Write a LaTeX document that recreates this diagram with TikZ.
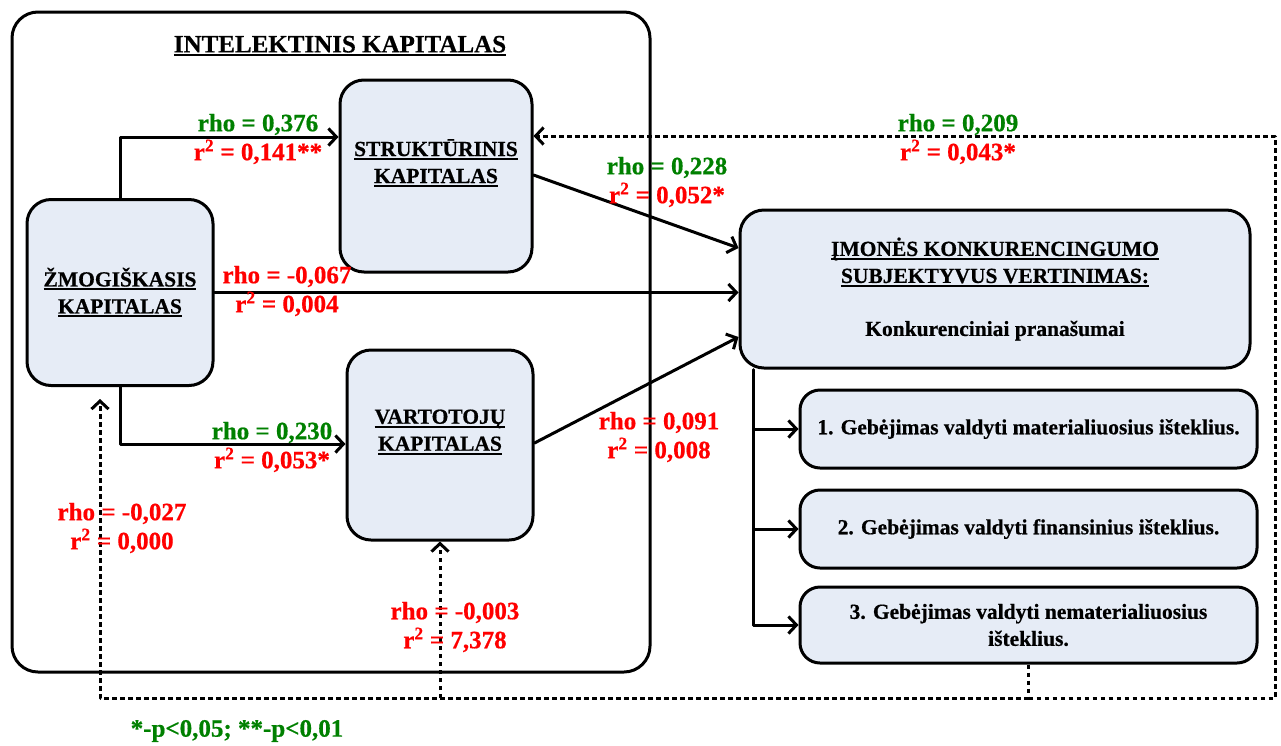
\documentclass[tikz,border=0pt]{standalone}
\usepackage{fontspec}
\setmainfont{Liberation Serif}[BoldFeatures={FakeBold=0.6}]
\usepackage[dvipsnames]{xcolor}
\usetikzlibrary{arrows.meta}
\usetikzlibrary{positioning}
\definecolor{rhogreen}{rgb}{0.0,0.5,0.0}
\definecolor{rhored}{rgb}{1,0,0}
\definecolor{boxblue}{RGB}{230,236,246}
\newsavebox{\kulbox}
\newcommand{\kul}[1]{\sbox{\kulbox}{#1}\rlap{\vrule width \wd\kulbox height -1.8pt depth 3.8pt}\usebox{\kulbox}}

\begin{document}
\begin{tikzpicture}[line cap=round,line join=round,x=1pt,y=-1pt,
    kbox/.style={draw=black,line width=3pt,fill=boxblue,rounded corners=24pt,inner sep=0pt},
    ktext/.style={align=center,font=\fontsize{21.5}{27}\selectfont\bfseries},
    lbl/.style={align=center,font=\fontsize{25}{29}\selectfont\bfseries},
    link/.style={line width=3pt,color=black,-{Straight Barb[length=8pt,width=17pt]}},
    dotlink/.style={line width=3pt,color=black,line cap=butt,dash pattern=on 4.5pt off 3.5pt}]
\useasboundingbox (0,0) rectangle (1281,745);
\node[draw=black,line width=3pt,rounded corners=26pt,minimum width=638pt,minimum height=660pt] (ik) at (331,342) {};
\node[lbl] (iktitle) at (340,46) {\kul{INTELEKTINIS KAPITALAS}};
\node[kbox,minimum width=186pt,minimum height=186pt] (zmog) at (120,292.5) {};
\node[ktext] at (zmog) {\kul{ŽMOGIŠKASIS}\\\kul{KAPITALAS}};
\node[kbox,minimum width=192pt,minimum height=192pt] (strukt) at (436,176) {};
\node[ktext] at (436,163) {\kul{STRUKTŪRINIS}\\\kul{KAPITALAS}};
\node[kbox,minimum width=186pt,minimum height=190pt] (vart) at (440,445) {};
\node[ktext] at (440,432) {\kul{VARTOTOJŲ}\\\kul{KAPITALAS}};
\node[kbox,minimum width=510pt,minimum height=158pt] (imon) at (995,289) {};
\node[ktext] at (995,289) {\kul{ĮMONĖS KONKURENCINGUMO}\\\kul{SUBJEKTYVUS VERTINIMAS:}\\[26pt]Konkurenciniai pranašumai};
\node[kbox,rounded corners=20pt,minimum width=457pt,minimum height=78pt] (item1) at (1028.5,429) {};
\node[ktext] at (item1) {1. Gebėjimas valdyti materialiuosius išteklius.};
\node[kbox,rounded corners=20pt,minimum width=457pt,minimum height=78pt] (item2) at (1028.5,529) {};
\node[ktext] at (item2) {2. Gebėjimas valdyti finansinius išteklius.};
\node[kbox,rounded corners=20pt,minimum width=457pt,minimum height=76pt] (item3) at (1028.5,625) {};
\node[ktext] at (item3) {3. Gebėjimas valdyti nematerialiuosius\\išteklius.};
\draw[link] (zmog.north) |- ([yshift=39pt]strukt.west);
\draw[link] (zmog.south) |- ([yshift=1pt]vart.west);
\draw[link] (zmog.east) -- (imon.west |- zmog.east);
\draw[link] ([yshift=1pt]strukt.east) -- ([yshift=41pt]imon.west);
\draw[link] ([yshift=2pt]vart.east) -- ([yshift=-48pt]imon.west);
\coordinate (fork) at ([xshift=15pt]imon.south west);
\draw[line width=3pt] (fork) -- (fork |- item3.west);
\foreach \n in {1,2,3}
\draw[link] (fork |- item\n.west) -- (item\n.west);
\coordinate (dmid) at (item3.south |- 0,698);
\coordinate (dright) at (1275,698);
\draw[dotlink] (item3.south) -- (dmid);
\draw[dotlink,-{Straight Barb[length=8pt,width=17pt]}] (dmid) -- (dright) |- ([yshift=40pt]strukt.east);
\draw[dotlink,-{Straight Barb[length=8pt,width=17pt]}] (dmid) -| ([xshift=-20pt,yshift=-12pt]zmog.south);
\draw[dotlink,-{Straight Barb[length=8pt,width=17pt]}] (vart.south |- dmid) -- (vart.south);
\node[lbl] (lzs) at (258,139) {\textcolor{rhogreen}{rho = 0,376}\\\textcolor{rhored}{r\textsuperscript{2} = 0,141**}};
\node[lbl] (lzi) at (287,291) {\textcolor{rhored}{rho = -0,067}\\\textcolor{rhored}{r\textsuperscript{2} = 0,004}};
\node[lbl] (lzv) at (272,447) {\textcolor{rhogreen}{rho = 0,230}\\\textcolor{rhored}{r\textsuperscript{2} = 0,053*}};
\node[lbl] (lsi) at (667,182) {\textcolor{rhogreen}{rho = 0,228}\\\textcolor{rhored}{r\textsuperscript{2} = 0,052*}};
\node[lbl] (lfs) at (958,139) {\textcolor{rhogreen}{rho = 0,209}\\\textcolor{rhored}{r\textsuperscript{2} = 0,043*}};
\node[lbl] (lvi) at (659,437) {\textcolor{rhored}{rho = 0,091}\\\textcolor{rhored}{r\textsuperscript{2} = 0,008}};
\node[lbl] (lfz) at (122,528) {\textcolor{rhored}{rho = -0,027}\\\textcolor{rhored}{r\textsuperscript{2} = 0,000}};
\node[lbl] (lfv) at (455,627) {\textcolor{rhored}{rho = -0,003}\\\textcolor{rhored}{r\textsuperscript{2} = 7,378}};
\node[lbl] (pnote) at (237,731) {\textcolor{rhogreen}{*-p<0,05; **-p<0,01}};
\end{tikzpicture}
\end{document}
